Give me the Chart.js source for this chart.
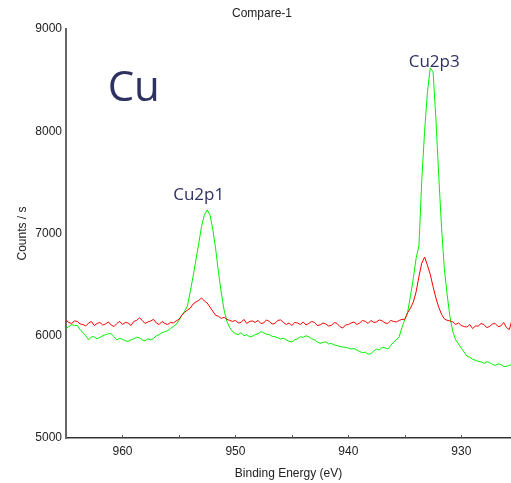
<!DOCTYPE html>
<html>
<head>
<meta charset="utf-8">
<script src="https://cdn.jsdelivr.net/npm/chart.js@4/dist/chart.umd.min.js"></script>
<style>
  html, body { margin: 0; padding: 0; background: #fff; }
  #wrap { width: 511px; height: 483px; position: relative; }
</style>
</head>
<body>
<div id="wrap"><canvas id="xpsChart"></canvas></div>
<script>
// binding energy grid (eV), one row per eV, shared by both scans
var energy = [
  965, 964.75, 964.5, 964.25,  964, 963.75, 963.5, 963.25,
  963, 962.75, 962.5, 962.25,  962, 961.75, 961.5, 961.25,
  961, 960.75, 960.5, 960.25,  960, 959.75, 959.5, 959.25,
  959, 958.75, 958.5, 958.25,  958, 957.75, 957.5, 957.25,
  957, 956.75, 956.5, 956.25,  956, 955.75, 955.5, 955.25,
  955, 954.75, 954.5, 954.25,  954, 953.75, 953.5, 953.25,
  953, 952.75, 952.5, 952.25,  952, 951.75, 951.5, 951.25,
  951, 950.75, 950.5, 950.25,  950, 949.75, 949.5, 949.25,
  949, 948.75, 948.5, 948.25,  948, 947.75, 947.5, 947.25,
  947, 946.75, 946.5, 946.25,  946, 945.75, 945.5, 945.25,
  945, 944.75, 944.5, 944.25,  944, 943.75, 943.5, 943.25,
  943, 942.75, 942.5, 942.25,  942, 941.75, 941.5, 941.25,
  941, 940.75, 940.5, 940.25,  940, 939.75, 939.5, 939.25,
  939, 938.75, 938.5, 938.25,  938, 937.75, 937.5, 937.25,
  937, 936.75, 936.5, 936.25,  936, 935.75, 935.5, 935.25,
  935, 934.75, 934.5, 934.25,  934, 933.75, 933.5, 933.25,
  933, 932.75, 932.5, 932.25,  932, 931.75, 931.5, 931.25,
  931, 930.75, 930.5, 930.25,  930, 929.75, 929.5, 929.25,
  929, 928.75, 928.5, 928.25,  928, 927.75, 927.5, 927.25,
  927, 926.75, 926.5, 926.25,  926, 925.75, 925.5
];

// red scan (counts / s)
var redCounts = [
  6150, 6130, 6120, 6145,  6140, 6115, 6110, 6095,
  6125, 6140, 6100, 6120,  6130, 6105, 6115, 6135,
  6105, 6090, 6120, 6140,  6110, 6130, 6125, 6100,
  6140, 6150, 6175, 6150,  6120, 6135, 6145, 6160,
  6125, 6110, 6140, 6120,  6110, 6130, 6125, 6145,
  6160, 6200, 6230, 6250,  6270, 6310, 6330, 6345,
  6370, 6340, 6320, 6280,  6240, 6200, 6190, 6170,
  6180, 6160, 6150, 6140,  6150, 6125, 6130, 6160,
  6120, 6140, 6145, 6130,  6150, 6120, 6125, 6155,
  6140, 6115, 6120, 6150,  6155, 6130, 6110, 6125,
  6100, 6130, 6125, 6110,  6135, 6105, 6120, 6140,
  6130, 6100, 6105, 6125,  6115, 6095, 6100, 6130,
  6120, 6090, 6075, 6105,  6110, 6125, 6135, 6110,
  6125, 6150, 6140, 6120,  6150, 6130, 6135, 6155,
  6145, 6125, 6120, 6150,  6140, 6135, 6150, 6160,
  6160, 6225, 6270, 6330,  6430, 6580, 6710, 6770,
  6690, 6600, 6480, 6370,  6280, 6210, 6165, 6150,
  6145, 6135, 6110, 6125,  6100, 6090, 6085, 6110,
  6070, 6095, 6095, 6120,  6110, 6080, 6090, 6115,
  6120, 6090, 6095, 6130,  6080, 6060, 6160
];

// green scan (counts / s)
var greenCounts = [
  6070, 6090, 6110, 6100,  6100, 6060, 6030, 6000,
  5960, 5990, 5990, 5970,  5985, 6000, 6010, 6020,
  6020, 5990, 5960, 5975,  5965, 5950, 5945, 5960,
  5970, 5985, 5980, 5960,  5950, 5970, 5960, 5975,
  6000, 6010, 6030, 6040,  6050, 6070, 6090, 6110,
  6150, 6200, 6240, 6290,  6430, 6580, 6740, 6900,
  7070, 7180, 7230, 7180,  7040, 6850, 6620, 6420,
  6250, 6140, 6080, 6040,  6020, 6010, 6030, 6000,
  6010, 5990, 5995, 6010,  6020, 6040, 6030, 6015,
  6010, 5995, 5990, 5980,  5970, 5975, 5960, 5945,
  5940, 5960, 5970, 5990,  5985, 6000, 5990, 5970,
  5960, 5940, 5925, 5935,  5940, 5920, 5925, 5910,
  5905, 5895, 5890, 5885,  5880, 5870, 5875, 5860,
  5845, 5835, 5840, 5820,  5825, 5850, 5870, 5860,
  5890, 5880, 5870, 5905,  5940, 5960, 5990, 6080,
  6160, 6230, 6390, 6560,  6760, 6880, 7520, 8000,
  8380, 8620, 8580, 8120,  7570, 7060, 6650, 6400,
  6180, 6040, 5960, 5920,  5880, 5840, 5800, 5790,
  5770, 5760, 5750, 5745,  5730, 5745, 5740, 5720,
  5710, 5725, 5720, 5700,  5700, 5710, 5720
];

var xTicks = [960, 955, 950, 945, 940, 935, 930];
var yTicks = [5000, 6000, 7000, 8000, 9000];

// peak labels placed in data coordinates (eV, counts)
var labels = [
  { text: 'Cu',    e: 959.0,  c: 8296, size: 42 },
  { text: 'Cu2p1', e: 953.25, c: 7330, size: 17 },
  { text: 'Cu2p3', e: 932.4,  c: 8625, size: 17 }
];

function pairs(xs, ys) {
  return xs.map(function (x, i) { return { x: x, y: ys[i] }; });
}

var axisFont = { family: "'Liberation Sans', Arial, sans-serif", size: 12, weight: 'normal' };

var peakLabels = {
  id: 'peakLabels',
  afterDatasetsDraw: function (chart) {
    var ctx = chart.ctx, sx = chart.scales.x, sy = chart.scales.y;
    ctx.save();
    ctx.fillStyle = '#2f3160';
    ctx.textAlign = 'center';
    ctx.textBaseline = 'alphabetic';
    labels.forEach(function (l) {
      ctx.font = l.size + "px 'Open Sans', 'Noto Sans', sans-serif";
      ctx.fillText(l.text, sx.getPixelForValue(l.e), sy.getPixelForValue(l.c));
    });
    ctx.restore();
  }
};

// small tick marks pointing up into the plot
var innerTicks = {
  id: 'innerTicks',
  afterDraw: function (chart) {
    var ctx = chart.ctx, sx = chart.scales.x, b = chart.chartArea.bottom;
    ctx.save();
    ctx.strokeStyle = '#555';
    ctx.lineWidth = 1;
    xTicks.forEach(function (v) {
      var px = Math.round(sx.getPixelForValue(v)) + 0.5;
      ctx.beginPath();
      ctx.moveTo(px, b);
      ctx.lineTo(px, b - 3);
      ctx.stroke();
    });
    ctx.restore();
  }
};

new Chart(document.getElementById('xpsChart'), {
  type: 'line',
  data: {
    datasets: [
      {
        label: 'red',
        data: pairs(energy, redCounts),
        borderColor: '#ff0000',
        borderWidth: 1,
        pointRadius: 0,
        tension: 0,
        fill: false
      },
      {
        label: 'green',
        data: pairs(energy, greenCounts),
        borderColor: '#00f000',
        borderWidth: 1,
        pointRadius: 0,
        tension: 0,
        fill: false
      }
    ]
  },
  options: {
    responsive: true,
    maintainAspectRatio: false,
    animation: false,
    devicePixelRatio: 1,
    layout: { padding: { left: 13, right: 0, top: 0, bottom: 0 } },
    plugins: {
      legend: { display: false },
      tooltip: { enabled: false },
      title: {
        display: true,
        text: 'Compare-1',
        color: '#222',
        font: axisFont,
        padding: { top: 6, bottom: 8.6 }
      }
    },
    scales: {
      x: {
        type: 'linear',
        reverse: true,
        min: 925.6,
        max: 965,
        afterBuildTicks: function (s) {
          s.ticks = xTicks.map(function (v) { return { value: v }; });
        },
        afterFit: function (s) { s.height = 45; },
        grid: { display: false, drawTicks: false, tickLength: 0 },
        border: { display: true, color: '#333', width: 1.5 },
        ticks: {
          autoSkip: false,
          maxRotation: 0,
          padding: 6,
          color: '#222',
          font: axisFont,
          callback: function (v) { return v % 10 === 0 ? String(v) : ''; }
        },
        title: {
          display: true,
          text: 'Binding Energy (eV)',
          color: '#222',
          font: axisFont,
          padding: { top: 0, bottom: 2 }
        }
      },
      y: {
        min: 5000,
        max: 9000,
        afterBuildTicks: function (s) {
          s.ticks = yTicks.map(function (v) { return { value: v }; });
        },
        afterFit: function (s) { s.width = 53; },
        grid: { display: false, drawTicks: false, tickLength: 0 },
        border: { display: true, color: '#666', width: 2 },
        ticks: {
          padding: 4,
          color: '#222',
          font: axisFont,
          callback: function (v) { return String(v); }
        },
        title: {
          display: true,
          text: 'Counts / s',
          color: '#222',
          font: axisFont,
          padding: { top: 2, bottom: 0 }
        }
      }
    }
  },
  plugins: [peakLabels, innerTicks]
});
</script>
</body>
</html>
